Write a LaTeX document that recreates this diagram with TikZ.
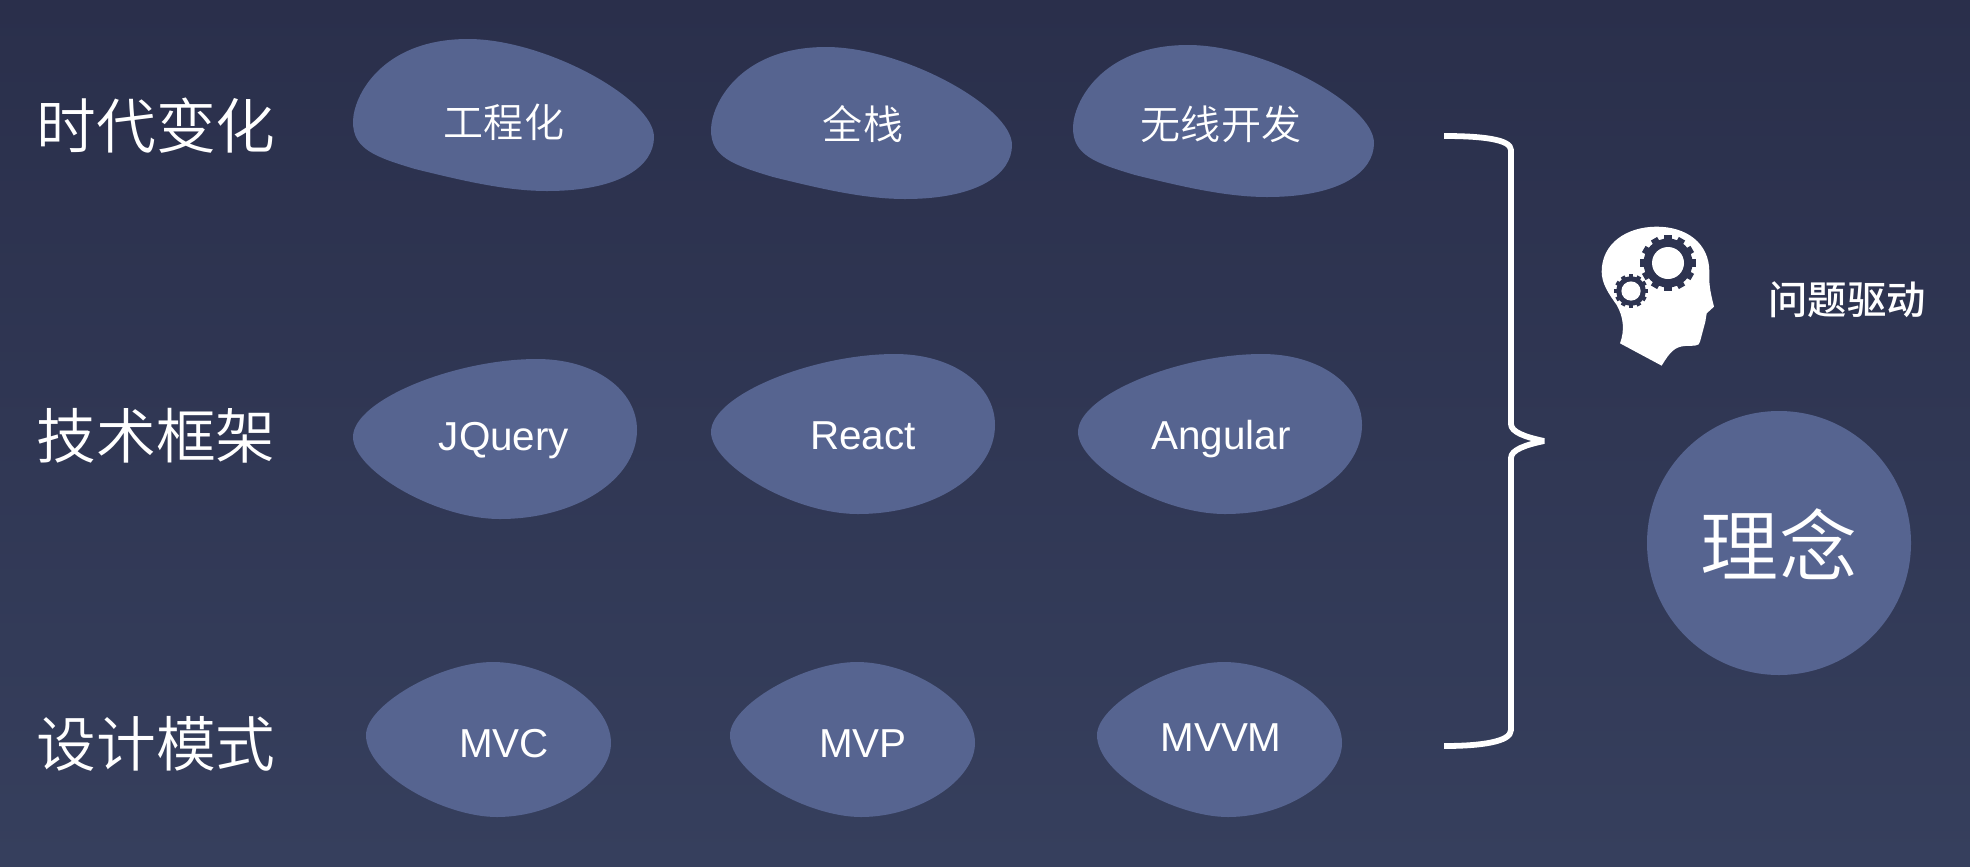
\documentclass[tikz,border=0pt]{standalone}
\usepackage{fontspec}
\usepackage{tikz}
\newfontfamily\cjkthin{Noto Sans CJK SC DemiLight}
\newfontfamily\cjkmed{Noto Sans CJK SC Medium}
\newfontfamily\latinsans{Liberation Sans}
\definecolor{bgtop}{HTML}{2A2F4B}
\definecolor{bgbottom}{HTML}{363F5D}
\definecolor{blobfill}{HTML}{566490}
\definecolor{gearfill}{HTML}{2D3350}
\tikzset{
    rowlabel/.style={text=white, font=\cjkthin\fontsize{34}{40}\selectfont},
    cjkblob/.style={text=white, font=\cjkthin\fontsize{22.8}{27}\selectfont},
    latinblob/.style={text=white, anchor=base, font=\latinsans\fontsize{23}{28}\selectfont},
    pics/blobA/.style={code={
        \fill[blobfill] (128,15) .. controls (205,15) and (314,75) .. (314,113)
            .. controls (314,142) and (280,167) .. (207,167)
            .. controls (165,167) and (120,156) .. (75,145)
            .. controls (35,133) and (13,125) .. (13,98)
            .. controls (13,72) and (42,15) .. (128,15) -- cycle;
    }},
    pics/blobB/.style={code={
        \fill[blobfill] (197,19) .. controls (255,19) and (297,50) .. (297,90)
            .. controls (297,140) and (235,179) .. (160,179)
            .. controls (95,179) and (13,130) .. (13,97)
            .. controls (13,60) and (115,19) .. (197,19) -- cycle;
    }},
    pics/blobC/.style={code={
        \fill[blobfill] (143,22) .. controls (195,22) and (261,60) .. (261,103)
            .. controls (261,140) and (205,177) .. (147,177)
            .. controls (95,177) and (16,135) .. (16,95)
            .. controls (16,65) and (90,22) .. (143,22) -- cycle;
    }},
    pics/gear/.style={code={
        \fill[gearfill] (0,0) circle (24.5);
        \foreach \a in {0,30,...,330} {
            \fill[gearfill, rotate=\a] (-3.6,20) rectangle (3.6,28);
        }
        \fill[white] (0,0) circle (16);
    }}
}

\begin{document}
\begin{tikzpicture}[x=0.02cm, y=-0.02cm]
    \useasboundingbox (0,0) rectangle (1970,866);
    \shade[top color=bgtop, bottom color=bgbottom] (0,0) rectangle (1970,866);

    % Row labels
    \node[rowlabel] (change) at (156,126) {时代变化};
    \node[rowlabel] (frame) at (156,436) {技术框架};
    \node[rowlabel] (pattern) at (156,744) {设计模式};

    % Top row
    \pic at (340,24) {blobA};
    \pic at (698,32) {blobA};
    \pic at (1060,30) {blobA};
    \node[cjkblob] (eng) at (504,122) {工程化};
    \node[cjkblob] (full) at (863,124) {全栈};
    \node[cjkblob] (wireless) at (1221,124) {无线开发};

    % Middle row
    \pic at (340,340) {blobB};
    \pic at (698,335) {blobB};
    \pic at (1065,335) {blobB};
    \node[latinblob] (jquery) at (504,450) {JQuery};
    \node[latinblob] (react) at (863,449) {React};
    \node[latinblob] (angular) at (1221,449) {Angular};

    % Bottom row
    \pic at (350,640) {blobC};
    \pic at (714,640) {blobC};
    \pic at (1081,640) {blobC};
    \node[latinblob] (mvc) at (504,757) {MVC};
    \node[latinblob] (mvp) at (863,757) {MVP};
    \node[latinblob] (mvvm) at (1221,751) {MVVM};

    % Brace
    \draw[white, line width=3.3pt, line join=bevel]
        (1444,136) .. controls (1480,136) and (1511,139) .. (1511,150) -- (1511,424)
        .. controls (1511,432) and (1525,437) .. (1544,441)
        .. controls (1525,445) and (1511,450) .. (1511,458) -- (1511,730)
        .. controls (1511,742) and (1480,746) .. (1444,746);

    % Head with gears
    \begin{scope}[shift={(1560,200)}, scale=1/3]
        \fill[white] (305,497) -- (180,430) .. controls (195,390) and (190,350) .. (170,315)
            .. controls (145,280) and (125,250) .. (125,215)
            .. controls (125,130) and (200,80) .. (290,80)
            .. controls (380,80) and (448,130) .. (448,215)
            .. controls (448,240) and (445,255) .. (462,320)
            -- (440,340) -- (436,365) -- (428,395) -- (420,425)
            .. controls (420,440) and (395,437) .. (375,438)
            .. controls (345,440) and (330,455) .. (305,497) -- cycle;
    \end{scope}
    \pic at (1668,263) {gear};
    \pic[scale=0.6] at (1631,291) {gear};

    % Concept
    \node[text=white, font=\cjkmed\fontsize{22.4}{27}\selectfont] (question) at (1847,300) {问题驱动};
    \fill[blobfill] (1779,543) circle (132);
    \node[text=white, font=\cjkthin\fontsize{44.5}{52}\selectfont] (concept) at (1779,544) {理念};
\end{tikzpicture}
\end{document}
